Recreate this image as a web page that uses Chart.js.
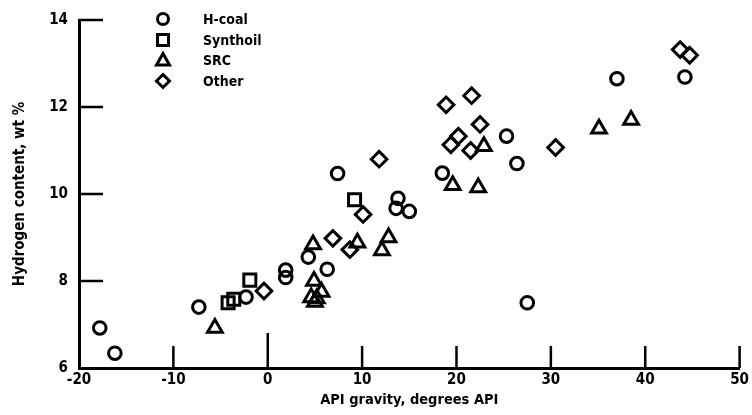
<!DOCTYPE html>
<html>
<head>
<meta charset="utf-8">
<script src="https://cdn.jsdelivr.net/npm/chart.js@4.4.1/dist/chart.umd.min.js"></script>
<style>
  html, body { margin: 0; padding: 0; background: #fff; }
  #wrap { position: relative; width: 752px; height: 415px; }
  #legend { position: absolute; left: 150px; top: 9px; font: bold 14px 'DejaVu Sans Condensed', 'DejaVu Sans', sans-serif; color: #000; }
  #legend .row { display: flex; align-items: center; height: 20.5px; }
  #legend svg { width: 26px; height: 20px; margin-right: 27px; }
</style>
</head>
<body>
<div id="wrap">
  <canvas id="chart" width="752" height="415"></canvas>
  <div id="legend"></div>
</div>
<script>
// Hydrogen content vs API gravity for coal liquids
const seriesNames = ['H-coal', 'Synthoil', 'SRC', 'Other'];
const pointStyles = ['circle', 'rect', 'triangle', 'rectRot'];
const pointRadii = [6.3, 8.5, 8.5, 7.8];

const hcoalX = [-17.8, -16.2, -7.3, -2.3, 1.9, 1.9, 4.3, 6.3, 7.4, 13.8, 13.6, 15.0, 18.5, 25.3, 26.4, 27.5, 37.0, 44.2];
const hcoalY = [6.92, 6.34, 7.40, 7.63, 8.25, 8.08, 8.55, 8.27, 10.47, 9.90, 9.67, 9.60, 10.48, 11.33, 10.70, 7.50, 12.65, 12.69];

const synthoilX = [-4.2, -3.6, -1.9, 9.2];
const synthoilY = [7.50, 7.58, 8.02, 9.87];

const srcX = [-5.6, 4.8, 4.9, 5.7, 4.6, 5.2, 5.0, 9.5, 12.1, 12.8, 19.6, 22.3, 22.9, 35.1, 38.5];
const srcY = [6.92, 8.84, 8.00, 7.75, 7.62, 7.60, 7.52, 8.88, 8.70, 9.00, 10.20, 10.15, 11.10, 11.50, 11.70];

const otherX = [-0.4, 6.9, 8.7, 10.1, 11.8, 18.9, 19.4, 20.2, 21.5, 21.6, 22.5, 30.5, 43.7, 44.7];
const otherY = [7.77, 8.98, 8.72, 9.53, 10.80, 12.05, 11.13, 11.33, 11.00, 12.26, 11.60, 11.07, 13.32, 13.19];

const xTicks = [-20, -10, 0, 10, 20, 30, 40, 50];
const yTicks = [6, 8, 10, 12, 14];

const xTitle = 'API gravity, degrees API';
const yTitle = 'Hydrogen content, wt %';

const FONT = "'DejaVu Sans Condensed', 'DejaVu Sans', sans-serif";

function pairs(xs, ys) {
    return xs.map((x, i) => ({ x: x, y: ys[i] }));
}

const seriesData = [
    pairs(hcoalX, hcoalY),
    pairs(synthoilX, synthoilY),
    pairs(srcX, srcY),
    pairs(otherX, otherY)
];

// ticks in this figure point into the plot area
const inwardTicks = {
    id: 'inwardTicks',
    beforeDatasetsDraw(chart) {
        const { ctx, scales: { x, y } } = chart;
        ctx.save();
        ctx.strokeStyle = '#000';
        ctx.lineWidth = 2.5;
        ctx.beginPath();
        x.ticks.forEach(t => {
            if (t.value === x.min) return;
            const px = x.getPixelForValue(t.value);
            const len = t.value === 0 ? 35 : 22;
            ctx.moveTo(px, x.top);
            ctx.lineTo(px, x.top - len);
        });
        y.ticks.forEach(t => {
            if (t.value === y.min) return;
            const py = y.getPixelForValue(t.value);
            ctx.moveTo(y.right, py);
            ctx.lineTo(y.right + 24, py);
        });
        ctx.stroke();
        ctx.restore();
    }
};

new Chart(document.getElementById('chart'), {
    type: 'scatter',
    data: {
        datasets: seriesNames.map((name, i) => ({
            label: name,
            data: seriesData[i],
            pointStyle: pointStyles[i],
            pointRadius: pointRadii[i],
            pointHoverRadius: pointRadii[i],
            pointBorderWidth: 3,
            borderColor: '#000',
            backgroundColor: 'rgba(0,0,0,0)'
        }))
    },
    options: {
        responsive: false,
        animation: false,
        devicePixelRatio: 1,
        layout: { padding: { top: 19, right: 12, left: 0, bottom: 0 } },
        plugins: {
            legend: { display: false },
            tooltip: { enabled: false }
        },
        scales: {
            x: {
                type: 'linear',
                min: -20,
                max: 50,
                afterBuildTicks: s => { s.ticks = xTicks.map(v => ({ value: v })); },
                afterFit: s => { s.height = 47; },
                grid: { display: false, drawTicks: false },
                border: { display: true, color: '#000', width: 3 },
                ticks: { color: '#000', padding: 3, maxRotation: 0, font: { family: FONT, size: 15, weight: 'bold' } },
                title: { display: true, text: xTitle, color: '#000', padding: { top: 0, bottom: 6 }, font: { family: FONT, size: 14.5, weight: 'bold' } }
            },
            y: {
                type: 'linear',
                min: 6,
                max: 14,
                afterBuildTicks: s => { s.ticks = yTicks.map(v => ({ value: v })); },
                afterFit: s => { s.width = 79; },
                grid: { display: false, drawTicks: false },
                border: { display: true, color: '#000', width: 3 },
                ticks: { color: '#000', padding: 11, font: { family: FONT, size: 15, weight: 'bold' } },
                title: { display: true, text: yTitle, color: '#000', padding: { top: 11, bottom: 0 }, font: { family: FONT, size: 15, weight: 'bold' } }
            }
        }
    },
    plugins: [inwardTicks]
});

// legend drawn as html, markers follow the dataset point styles
const markerSvg = {
    circle: '<circle cx="13" cy="10" r="5.5" fill="none" stroke="#000" stroke-width="3"/>',
    rect: '<rect x="7.5" y="4.5" width="11" height="11" fill="none" stroke="#000" stroke-width="3"/>',
    triangle: '<polygon points="13,3.5 19.5,15 6.5,15" fill="none" stroke="#000" stroke-width="3"/>',
    rectRot: '<polygon points="13,3.5 19.5,10 13,16.5 6.5,10" fill="none" stroke="#000" stroke-width="3"/>'
};
document.getElementById('legend').innerHTML = seriesNames.map((name, i) =>
    `<div class="row"><svg viewBox="0 0 26 20">${markerSvg[pointStyles[i]]}</svg><span>${name}</span></div>`
).join('');
</script>
</body>
</html>
